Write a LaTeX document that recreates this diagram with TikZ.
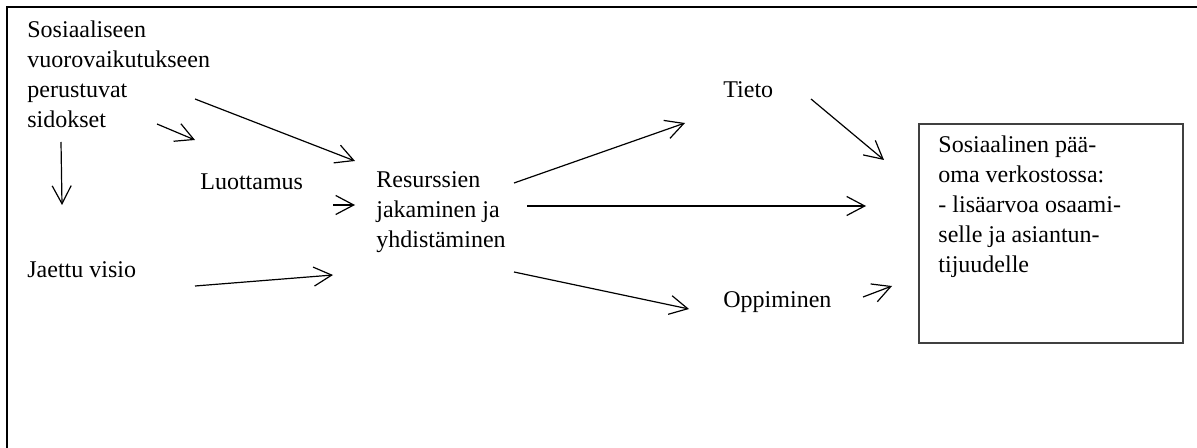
\documentclass[tikz,border=0pt]{standalone}
\usepackage{fontspec}
\setmainfont{Liberation Serif}
\usetikzlibrary{arrows.meta}
\begin{document}
\begin{tikzpicture}[x=0.5pt,y=-0.5pt,
  txt/.style={anchor=base west,inner sep=0pt,align=left,
    font=\fontsize{12}{15}\selectfont},
  flow/.style={line width=0.6pt,-{Straight Barb[length=9pt,width=9.5pt,line width=0.6pt]}},
  frame/.style={line width=1.2pt},
  result/.style={draw=black!75,line width=0.9pt,inner sep=0pt,anchor=north west,
    minimum width=132pt,minimum height=109.5pt}]
\useasboundingbox (0,0) rectangle (1197,448);
% outer frame: top and left edges only
\draw[frame] (7,448) -- (7,7) -- (1197,7);

% texts (multi-line nodes are placed by the baseline of their last line)
\node[txt] (sidokset) at (27,128) {Sosiaaliseen\\vuorovaikutukseen\\perustuvat\\sidokset};
\node[txt] (luottamus) at (200,190) {Luottamus};
\node[txt] (visio) at (27,278) {Jaettu visio};
\node[txt] (resurssit) at (376,248) {Resurssien\\jakaminen ja\\yhdistäminen};
\node[txt] (tieto) at (723,98) {Tieto};
\node[txt] (oppiminen) at (723,307) {Oppiminen};
\node[result] (paaoma) at (918,123) {};
\node[txt] (paaomateksti) at (938,273) {Sosiaalinen pää-\\oma verkostossa:\\- lisäarvoa osaami-\\selle ja asiantun-\\tijuudelle};

% arrow end points
\coordinate (a1s) at (195,99);  \coordinate (a1e) at (355,161);
\coordinate (a2s) at (157,124); \coordinate (a2e) at (195,140);
\coordinate (a3s) at (61,142);  \coordinate (a3e) at (62,205);
\coordinate (a4s) at (333,205); \coordinate (a4e) at (355,205);
\coordinate (a5s) at (195,286); \coordinate (a5e) at (333,275);
\coordinate (a6s) at (514,183); \coordinate (a6e) at (685,123);
\coordinate (a7s) at (527,206); \coordinate (a7e) at (866,206);
\coordinate (a8s) at (514,272); \coordinate (a8e) at (689,309);
\coordinate (a9s) at (811,99);  \coordinate (a9e) at (884,160);
\coordinate (a10s) at (863,297); \coordinate (a10e) at (892,286);

\draw[flow] (a1s) -- (a1e);
\draw[flow] (a2s) -- (a2e);
\draw[flow] (a3s) -- (a3e);
\draw[flow] (a4s) -- (a4e);
\draw[flow] (a5s) -- (a5e);
\draw[flow] (a6s) -- (a6e);
\draw[flow] (a7s) -- (a7e);
\draw[flow] (a8s) -- (a8e);
\draw[flow] (a9s) -- (a9e);
\draw[flow] (a10s) -- (a10e);
\end{tikzpicture}
\end{document}
